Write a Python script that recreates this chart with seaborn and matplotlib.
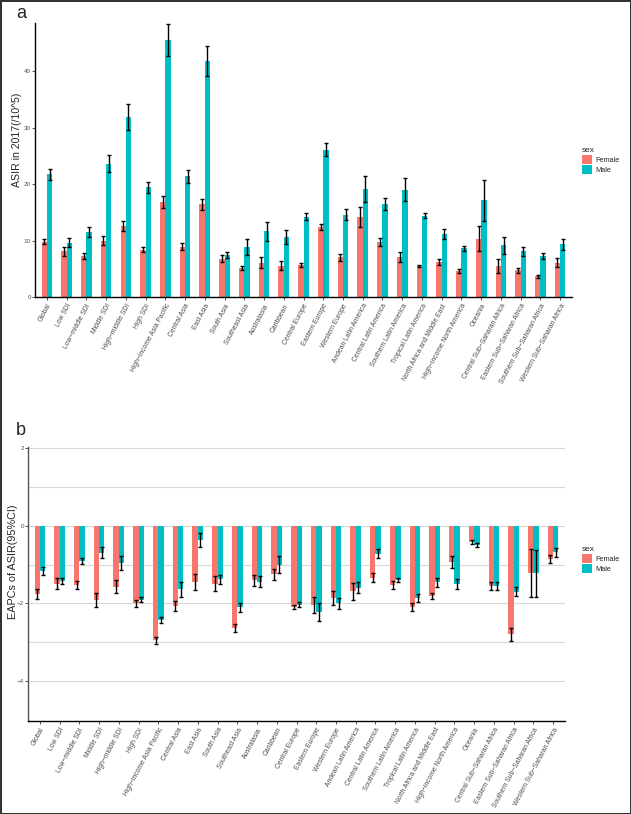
import numpy as np
import pandas as pd
import seaborn as sns
import matplotlib.pyplot as plt
from matplotlib.patches import Patch

regions = ["Global", "Low SDI", "Low−middle SDI", "Middle SDI", "High−middle SDI", "High SDI",
           "High−income Asia Pacific", "Central Asia", "East Asia", "South Asia", "Southeast Asia",
           "Australasia", "Caribbean", "Central Europe", "Eastern Europe", "Western Europe",
           "Andean Latin America", "Central Latin America", "Southern Latin America",
           "Tropical Latin America", "North Africa and Middle East", "High−income North America",
           "Oceania", "Central Sub−Saharan Africa", "Eastern Sub−Saharan Africa",
           "Southern Sub−Saharan Africa", "Western Sub−Saharan Africa"]
sexes = ["Female", "Male"]

# panel a: ASIR in 2017
asir_female = [9.8, 8.1, 7.3, 10.0, 12.5, 8.4, 16.8, 8.9, 16.4, 6.8, 5.1, 6.1, 5.5, 5.7, 12.4,
               7.0, 14.2, 9.7, 7.1, 5.5, 6.2, 4.6, 10.3, 5.5, 4.7, 3.7, 6.1]
asir_female_err = [0.5, 0.75, 0.5, 0.75, 0.9, 0.5, 1.1, 0.6, 1.0, 0.6, 0.4, 1.0, 0.8, 0.3, 0.55,
                   0.55, 1.8, 0.7, 0.9, 0.15, 0.55, 0.3, 2.2, 1.25, 0.45, 0.25, 0.75]
asir_male = [21.7, 9.6, 11.5, 23.6, 31.9, 19.4, 45.5, 21.4, 41.8, 7.4, 8.8, 11.6, 10.6, 14.2, 26.1,
             14.6, 19.1, 16.5, 19.0, 14.4, 11.2, 8.6, 17.1, 9.2, 8.1, 7.3, 9.3]
asir_male_err = [0.9, 0.8, 0.85, 1.5, 2.3, 0.9, 2.75, 1.15, 2.7, 0.55, 1.4, 1.65, 1.2, 0.6, 1.1,
                 1.0, 2.3, 1.1, 2.0, 0.45, 0.85, 0.4, 3.6, 1.5, 0.8, 0.5, 1.0]

# panel b: EAPCs of ASIR
eapc_female = [-1.76, -1.49, -1.53, -1.90, -1.57, -2.0, -2.94, -2.07, -1.45, -1.49, -2.64, -1.41,
               -1.25, -2.09, -2.04, -1.87, -1.69, -1.34, -1.53, -2.10, -1.80, -0.94, -0.42, -1.55,
               -2.79, -1.21, -0.85]
eapc_female_err = [0.13, 0.14, 0.1, 0.18, 0.17, 0.1, 0.09, 0.13, 0.2, 0.2, 0.1, 0.15, 0.14, 0.05,
                   0.21, 0.18, 0.21, 0.12, 0.11, 0.1, 0.08, 0.16, 0.05, 0.1, 0.17, 0.62, 0.1]
eapc_male = [-1.17, -1.42, -0.91, -0.70, -0.96, -1.90, -2.43, -1.64, -0.38, -1.38, -2.10, -1.44,
             -1.0, -2.03, -2.21, -2.0, -1.60, -0.72, -1.40, -1.86, -1.46, -1.50, -0.51, -1.56,
             -1.70, -1.23, -0.69]
eapc_male_err = [0.1, 0.08, 0.07, 0.14, 0.18, 0.06, 0.08, 0.2, 0.18, 0.12, 0.11, 0.14, 0.21, 0.06,
                 0.23, 0.15, 0.14, 0.11, 0.06, 0.11, 0.11, 0.14, 0.05, 0.1, 0.11, 0.6, 0.11]

palette = {"Female": "#F8766D", "Male": "#00BFC4"}

sns.set_theme(style="white")
plt.rcParams["font.family"] = ["Liberation Sans", "DejaVu Sans"]

fig = plt.figure(figsize=(6.31, 8.14), dpi=100)
fig.patch.set_edgecolor("#333333")
fig.patch.set_linewidth(2)


def make_frame(female, female_err, male, male_err):
    df = pd.DataFrame({
        "region": regions * 2,
        "sex": ["Female"] * len(regions) + ["Male"] * len(regions),
        "value": female + male,
    })
    return df, {"Female": female_err, "Male": male_err}


def draw_panel(ax, df, errs):
    sns.barplot(data=df, x="region", y="value", hue="sex", order=regions, hue_order=sexes,
                palette=palette, width=0.54, errorbar=None, legend=False, ax=ax,
                saturation=1, linewidth=0)
    for cont, sex in zip(ax.containers, sexes):
        xs = [b.get_x() + b.get_width() / 2 for b in cont]
        vals = df.loc[df["sex"] == sex, "value"].values
        ax.errorbar(xs, vals, yerr=errs[sex], fmt="none", ecolor="black",
                    elinewidth=1, capsize=1.4, capthick=1, zorder=5)
    ax.set_xlim(-0.6, len(regions) - 0.4)
    ax.set_xlabel("")
    ax.set_xticks(range(len(regions)))
    ax.set_xticklabels(regions, rotation=62, ha="right", va="top", rotation_mode="anchor",
                       fontsize=4.9, color="#4d4d4d")
    ax.tick_params(axis="both", length=2, width=0.6, color="#333333", pad=2, bottom=True, left=True)
    ax.tick_params(axis="y", labelsize=4.5, labelcolor="#4d4d4d", pad=1)
    ax.set_facecolor("none")
    for side in ["top", "right"]:
        ax.spines[side].set_visible(False)


def add_legend(y_top):
    handles = [Patch(facecolor=palette[s], edgecolor="none", label=s) for s in sexes]
    fig.legend(handles=handles, title="sex", loc="upper left", bbox_to_anchor=(0.912, y_top),
               frameon=False, fontsize=5.3, title_fontsize=6, handlelength=1.4, handleheight=1.6,
               handletextpad=0.4, labelspacing=0.05, alignment="left")


# panel a
ax1 = fig.add_axes([0.0555, 0.6351, 0.851, 0.3366])
df_a, err_a = make_frame(asir_female, asir_female_err, asir_male, asir_male_err)
draw_panel(ax1, df_a, err_a)
ax1.set_ylim(0, 48.5)
ax1.set_yticks([0, 10, 20, 30, 40])
ax1.set_ylabel("ASIR in 2017(/10^5)", fontsize=7.6)
ax1.yaxis.set_label_coords(-0.025, 0.575)
for side in ["left", "bottom"]:
    ax1.spines[side].set_color("black")
    ax1.spines[side].set_linewidth(1)
fig.text(0.025, 0.983, "a", fontsize=13, va="center", ha="left")
add_legend(0.827)

# panel b
ax2 = fig.add_axes([0.0444, 0.1143, 0.851, 0.3366])
df_b, err_b = make_frame(eapc_female, eapc_female_err, eapc_male, eapc_male_err)
draw_panel(ax2, df_b, err_b)
ax2.set_ylim(-5.02, 2.02)
ax2.set_yticks([-4, -2, 0, 2])
ax2.set_yticks([-3, -1, 1], minor=True)
ax2.grid(axis="y", which="both", color="#d9d9d9", linewidth=0.8)
ax2.set_axisbelow(True)
ax2.set_ylabel("EAPCs of ASIR(95%CI)", fontsize=7.8)
ax2.yaxis.set_label_coords(-0.019, 0.58)
ax2.spines["left"].set_color("#555555")
ax2.spines["left"].set_linewidth(1)
ax2.spines["bottom"].set_color("black")
ax2.spines["bottom"].set_linewidth(1)
ax2.tick_params(axis="y", which="minor", length=0)
fig.text(0.025, 0.471, "b", fontsize=13, va="center", ha="left")
add_legend(0.337)

fig.savefig("out.png", dpi=100, edgecolor=fig.get_edgecolor())
